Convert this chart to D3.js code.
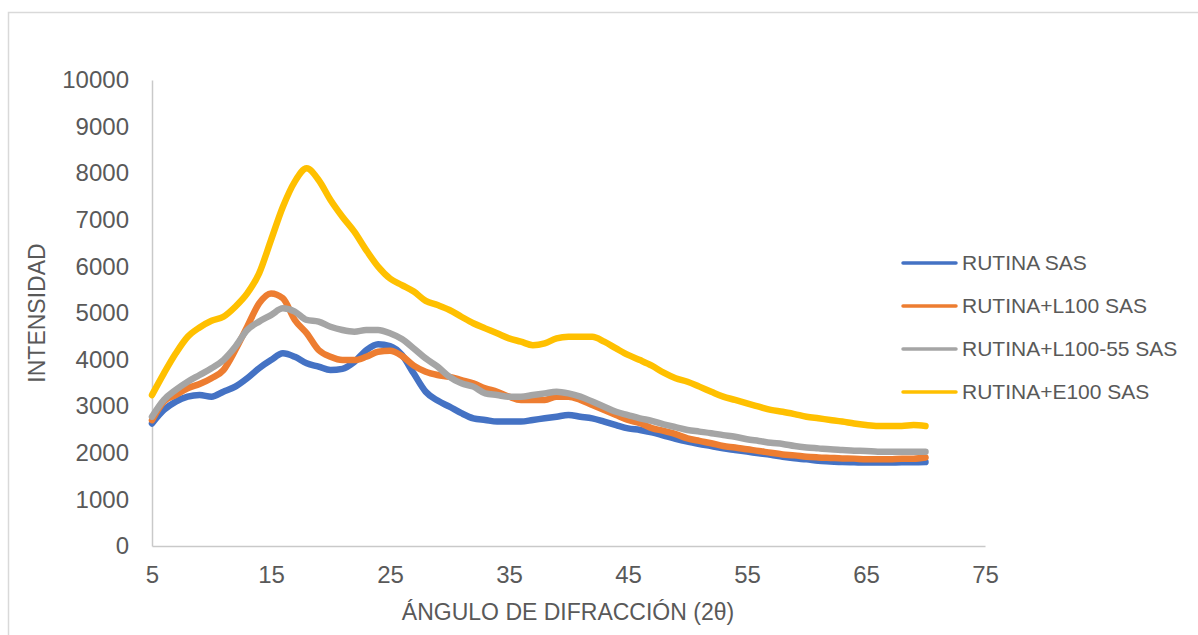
<!DOCTYPE html>
<html>
<head>
<meta charset="utf-8">
<script src="https://cdn.jsdelivr.net/npm/d3@7"></script>
<style>
  body { margin: 0; background: #fff; }
  svg text { font-family: "Liberation Sans", Arial, sans-serif; fill: #595959; }
</style>
</head>
<body>
<div id="chart"></div>
<script>
// 2-theta angles, one per degree
var angles = d3.range(5, 71);

var rutinaSAS = [2630, 2920, 3100, 3205, 3240, 3205, 3310, 3420, 3600, 3815,
  3990, 4135, 4060, 3920, 3850, 3775, 3800, 3950, 4200, 4330,
  4290, 4100, 3700, 3310, 3120, 2990, 2850, 2740, 2705, 2670,
  2670, 2670, 2705, 2740, 2775, 2810, 2775, 2740, 2670, 2595,
  2525, 2490, 2440, 2370, 2300, 2240, 2190, 2145, 2095, 2060,
  2025, 1990, 1955, 1915, 1880, 1860, 1830, 1815, 1800, 1795,
  1790, 1790, 1790, 1795, 1795, 1800];

var rutinaL100 = [2700, 3100, 3240, 3385, 3475, 3600, 3775, 4205, 4705, 5205,
  5420, 5315, 4850, 4565, 4205, 4060, 3990, 3990, 4060, 4170,
  4190, 4080, 3870, 3740, 3670, 3630, 3560, 3490, 3385, 3310,
  3205, 3135, 3135, 3135, 3205, 3205, 3135, 3025, 2920, 2810,
  2705, 2635, 2530, 2470, 2400, 2310, 2255, 2205, 2145, 2115,
  2075, 2040, 2000, 1965, 1945, 1915, 1900, 1890, 1880, 1875,
  1860, 1860, 1860, 1875, 1875, 1900];

var rutinaL10055 = [2775, 3135, 3350, 3525, 3670, 3815, 3990, 4275, 4635, 4815,
  4955, 5100, 5030, 4850, 4815, 4705, 4635, 4600, 4635, 4635,
  4565, 4440, 4240, 4025, 3850, 3630, 3490, 3420, 3275, 3240,
  3205, 3205, 3240, 3275, 3310, 3275, 3205, 3100, 2990, 2880,
  2810, 2740, 2685, 2610, 2550, 2490, 2455, 2420, 2380, 2345,
  2290, 2255, 2215, 2190, 2145, 2115, 2095, 2075, 2060, 2045,
  2040, 2025, 2025, 2025, 2025, 2025];

var rutinaE100 = [3240, 3705, 4135, 4490, 4690, 4835, 4920, 5135, 5420, 5850,
  6565, 7280, 7820, 8105, 7855, 7425, 7065, 6745, 6350, 5995,
  5740, 5600, 5460, 5260, 5170, 5065, 4920, 4780, 4670, 4565,
  4455, 4385, 4310, 4350, 4455, 4490, 4490, 4490, 4385, 4240,
  4100, 3990, 3870, 3720, 3600, 3525, 3420, 3310, 3205, 3135,
  3060, 2990, 2920, 2880, 2830, 2775, 2740, 2705, 2670, 2630,
  2595, 2575, 2575, 2575, 2595, 2575];

var seriesNames = ["RUTINA SAS", "RUTINA+L100 SAS", "RUTINA+L100-55 SAS", "RUTINA+E100 SAS"];
var seriesColors = ["#4472C4", "#ED7D31", "#A5A5A5", "#FFC000"];
var seriesValues = [rutinaSAS, rutinaL100, rutinaL10055, rutinaE100];

var xTicks = [5, 15, 25, 35, 45, 55, 65, 75];
var yTicks = [0, 1000, 2000, 3000, 4000, 5000, 6000, 7000, 8000, 9000, 10000];

var W = 1198, H = 635;

var svg = d3.select("#chart").append("svg")
    .attr("width", W)
    .attr("height", H);

// chart frame
svg.append("rect")
    .attr("x", 8.5).attr("y", 12.5)
    .attr("width", W + 20).attr("height", H + 20)
    .attr("fill", "none")
    .attr("stroke", "#D9D9D9")
    .attr("stroke-width", 1.5);

var xScale = d3.scaleLinear().domain([5, 75]).range([152, 985]);
var yScale = d3.scaleLinear().domain([0, 10000]).range([546, 80]);

var yAxis = d3.axisLeft(yScale)
    .tickValues(yTicks)
    .tickSize(0)
    .tickPadding(23)
    .tickFormat(d3.format("d"));

var xAxis = d3.axisBottom(xScale)
    .tickValues(xTicks)
    .tickSize(0)
    .tickPadding(20)
    .tickFormat(d3.format("d"));

var gy = svg.append("g")
    .attr("transform", "translate(152,0)")
    .call(yAxis);

var gx = svg.append("g")
    .attr("transform", "translate(0,546)")
    .call(xAxis);

[gx, gy].forEach(function (g) {
    g.select(".domain").attr("stroke", "#C9C9C9").attr("stroke-width", 1.5);
    g.selectAll("text")
        .style("font-family", "'Liberation Sans', Arial, sans-serif")
        .style("font-size", "24px")
        .attr("fill", "#595959");
});

// series
var line = d3.line()
    .x(function (d) { return xScale(d[0]); })
    .y(function (d) { return yScale(d[1]); })
    .curve(d3.curveMonotoneX);

seriesValues.forEach(function (vals, i) {
    var pts = angles.map(function (a, j) { return [a, vals[j]]; });
    svg.append("path")
        .datum(pts)
        .attr("fill", "none")
        .attr("stroke", seriesColors[i])
        .attr("stroke-width", 6.5)
        .attr("stroke-linejoin", "round")
        .attr("stroke-linecap", "round")
        .attr("d", line);
});

// axis titles
svg.append("text")
    .attr("x", 568)
    .attr("y", 620)
    .attr("text-anchor", "middle")
    .style("font-size", "23px")
    .text("ÁNGULO DE DIFRACCIÓN (2θ)");

svg.append("text")
    .attr("transform", "translate(45,313) rotate(-90)")
    .attr("text-anchor", "middle")
    .style("font-size", "23px")
    .text("INTENSIDAD");

// legend
var legend = svg.append("g")
    .attr("transform", "translate(903,263)");

seriesNames.forEach(function (name, i) {
    var row = legend.append("g").attr("transform", "translate(0," + (i * 43) + ")");
    row.append("line")
        .attr("x1", 0).attr("x2", 53)
        .attr("stroke", seriesColors[i])
        .attr("stroke-width", 3.5)
        .attr("stroke-linecap", "round");
    row.append("text")
        .attr("x", 59)
        .attr("dy", "0.35em")
        .style("font-size", "21px")
        .text(name);
});
</script>
</body>
</html>
